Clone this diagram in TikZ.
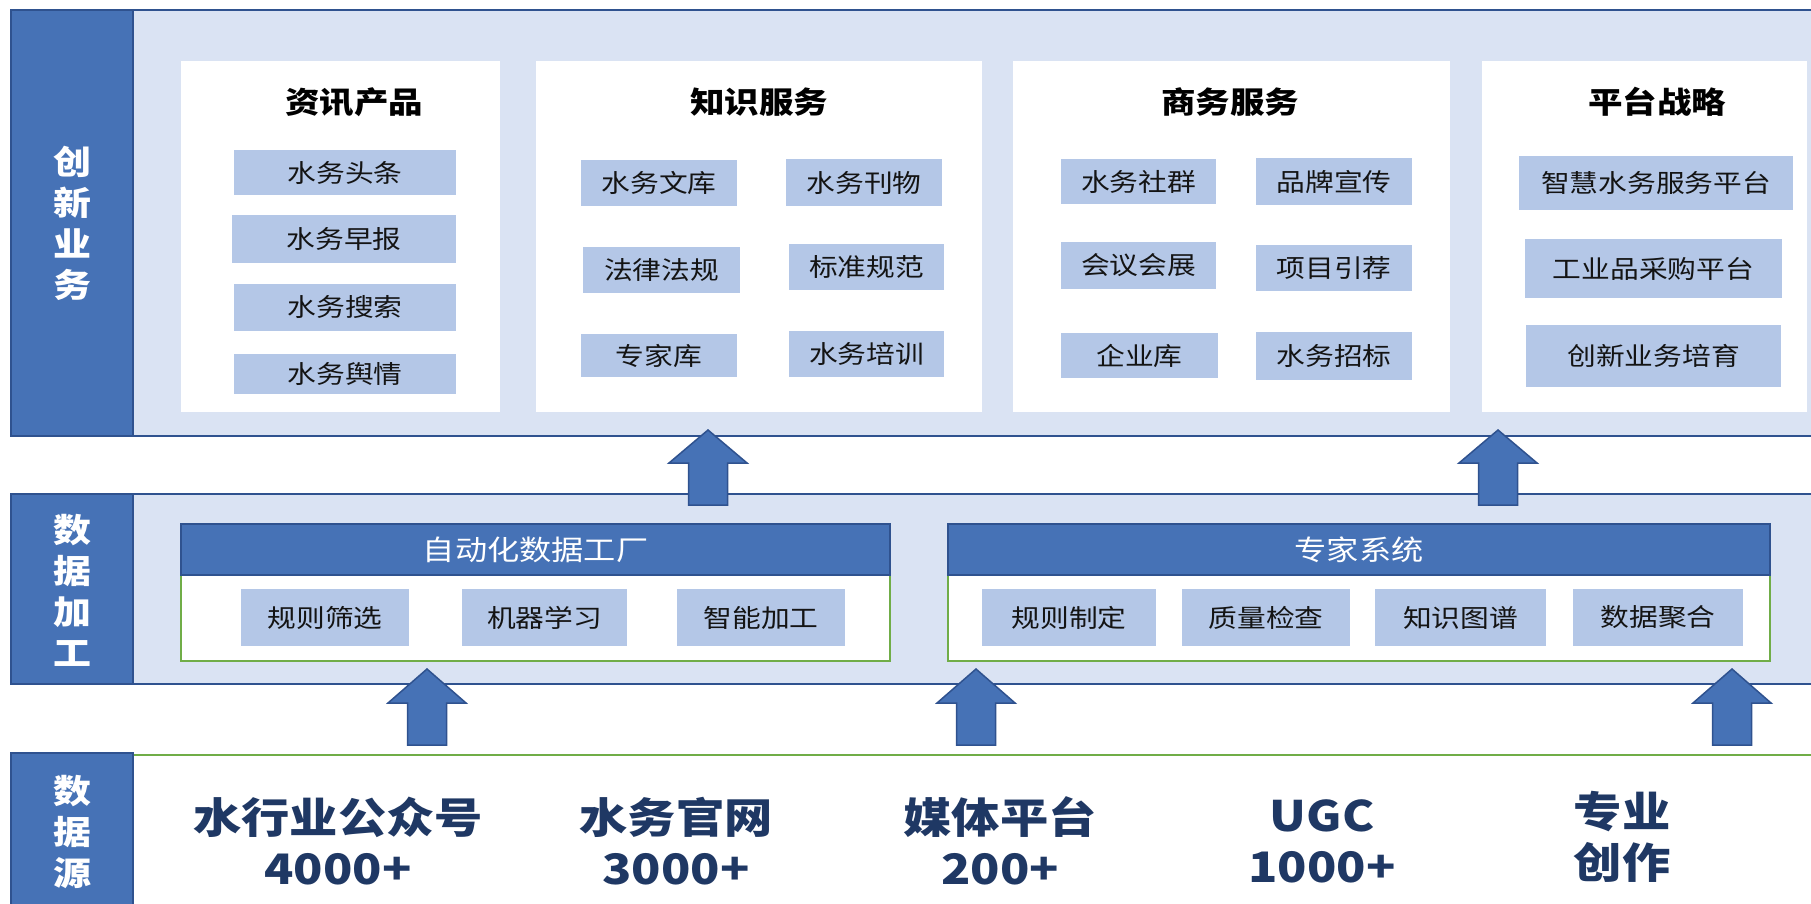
\documentclass[tikz,border=0pt]{standalone}
\usepackage{fontspec}
\setmainfont{Noto Sans CJK SC}[FakeStretch=1.15]
\usetikzlibrary{positioning}

\definecolor{labelblue}{HTML}{4672B6}
\definecolor{edgeblue}{HTML}{2F528F}
\definecolor{lightblue}{HTML}{DAE3F3}
\definecolor{itemblue}{HTML}{B4C7E7}
\definecolor{boxgreen}{HTML}{70AD47}
\definecolor{navy}{HTML}{1F3864}

% item box from its corners: name, x1, y1, x2, y2, text
\newcommand{\itembox}[6]{%
  \node[item, minimum width={#4-#2}, minimum height={#5-#3}] (#1) at ({(#2+#4)/2},{(#3+#5)/2}) {#6};}
% white group box from its corners: name, x1, y1, x2, y2
\newcommand{\groupbox}[5]{%
  \node[group, minimum width={#4-#2}, minimum height={#5-#3}] (#1) at ({(#2+#4)/2},{(#3+#5)/2}) {};}
% block arrow pointing up: centre x, tip y, head base y, bottom y
\newcommand{\blockarrow}[4]{%
  \draw[edgeblue, line width=1.5pt, fill=labelblue, line join=miter]
    (#1,#2) -- ({#1+39},#3) -- ({#1+19.5},#3) -- ({#1+19.5},#4)
    -- ({#1-19.5},#4) -- ({#1-19.5},#3) -- ({#1-39},#3) -- cycle;}

\begin{document}
\begin{tikzpicture}[x=1pt, y=-1pt,
    item/.style={fill=itemblue, inner sep=0pt, text=black!92,
      font=\fontsize{25}{25}\selectfont},
    group/.style={fill=white, inner sep=0pt},
    title/.style={font=\fontsize{30}{30}\selectfont\bfseries, text=black},
    layerlabel/.style={align=center, text=white,
      font=\fontsize{33}{41}\selectfont\bfseries},
    header/.style={text=white, font=\fontsize{28}{28}\selectfont},
    source/.style={align=center, text=navy,
      font=\fontsize{42}{51}\selectfont\bfseries}]
\useasboundingbox (0,0) rectangle (1811,903);

% Top layer
\draw[edgeblue, line width=2pt, fill=lightblue] (11,10) rectangle (1830,436);
\draw[edgeblue, line width=2pt, fill=labelblue] (11,10) rectangle (133,436);
\node[layerlabel] (innov) at (72,223) {创\\新\\业\\务};

\groupbox{news}{181}{61}{500}{412}
\groupbox{know}{536}{61}{982}{412}
\groupbox{biz}{1013}{61}{1450}{412}
\groupbox{plat}{1482}{61}{1807}{412}
\node[title] (newst) at (354,102) {资讯产品};
\node[title] (knowt) at (759,102) {知识服务};
\node[title] (bizt) at (1230,102) {商务服务};
\node[title] (platt) at (1657,102) {平台战略};

\itembox{n1}{234}{150}{456}{195}{水务头条}
\itembox{n2}{232}{215}{456}{263}{水务早报}
\itembox{n3}{234}{284}{456}{331}{水务搜索}
\itembox{n4}{234}{354}{456}{394}{水务舆情}

\itembox{k1}{581}{160}{737}{206}{水务文库}
\itembox{k2}{786}{159}{942}{206}{水务刊物}
\itembox{k3}{583}{247}{740}{293}{法律法规}
\itembox{k4}{789}{244}{944}{290}{标准规范}
\itembox{k5}{581}{334}{737}{377}{专家库}
\itembox{k6}{789}{331}{944}{377}{水务培训}

\itembox{b1}{1061}{159}{1216}{204}{水务社群}
\itembox{b2}{1256}{158}{1412}{205}{品牌宣传}
\itembox{b3}{1061}{242}{1216}{289}{会议会展}
\itembox{b4}{1256}{245}{1412}{291}{项目引荐}
\itembox{b5}{1061}{333}{1218}{378}{企业库}
\itembox{b6}{1256}{332}{1412}{380}{水务招标}

\itembox{p1}{1519}{156}{1793}{210}{智慧水务服务平台}
\itembox{p2}{1525}{239}{1782}{298}{工业品采购平台}
\itembox{p3}{1526}{325}{1781}{387}{创新业务培育}

% Middle layer
\draw[edgeblue, line width=2pt, fill=lightblue] (11,494) rectangle (1830,684);
\draw[edgeblue, line width=2pt, fill=labelblue] (11,494) rectangle (133,684);
\node[layerlabel] (proc) at (72,590) {数\\据\\加\\工};

\draw[boxgreen, line width=1.5pt, fill=white] (181,575) rectangle (890,661);
\draw[edgeblue, line width=1.5pt, fill=labelblue] (181,524) rectangle (890,575);
\node[header] (factory) at (535.5,550) {自动化数据工厂};
\itembox{f1}{241}{589}{409}{646}{规则筛选}
\itembox{f2}{462}{589}{627}{646}{机器学习}
\itembox{f3}{677}{589}{845}{646}{智能加工}

\draw[boxgreen, line width=1.5pt, fill=white] (948,575) rectangle (1770,661);
\draw[edgeblue, line width=1.5pt, fill=labelblue] (948,524) rectangle (1770,575);
\node[header] (expert) at (1359,550) {专家系统};
\itembox{e1}{982}{589}{1156}{646}{规则制定}
\itembox{e2}{1182}{589}{1350}{646}{质量检查}
\itembox{e3}{1375}{589}{1546}{646}{知识图谱}
\itembox{e4}{1573}{589}{1743}{646}{数据聚合}

% Bottom layer
\draw[boxgreen, line width=1.5pt, fill=white] (133,755) rectangle (1830,920);
\draw[edgeblue, line width=2pt, fill=labelblue] (11,753) rectangle (133,920);
\node[layerlabel] (src) at (72,832) {数\\据\\源};

\node[source] (s1) at (338,841) {水行业公众号\\4000+};
\node[source] (s2) at (676,841) {水务官网\\3000+};
\node[source] (s3) at (1000,841) {媒体平台\\200+};
\node[source] (s4) at (1322,841) {UGC\\1000+};
\node[source] (s5) at (1622,837) {专业\\创作};

% Arrows between layers
\blockarrow{708}{430}{463}{505}
\blockarrow{1498}{430}{463}{505}
\foreach \cx in {427,976,1732} {
  \blockarrow{\cx}{669}{703}{745}
}

\end{tikzpicture}
\end{document}
